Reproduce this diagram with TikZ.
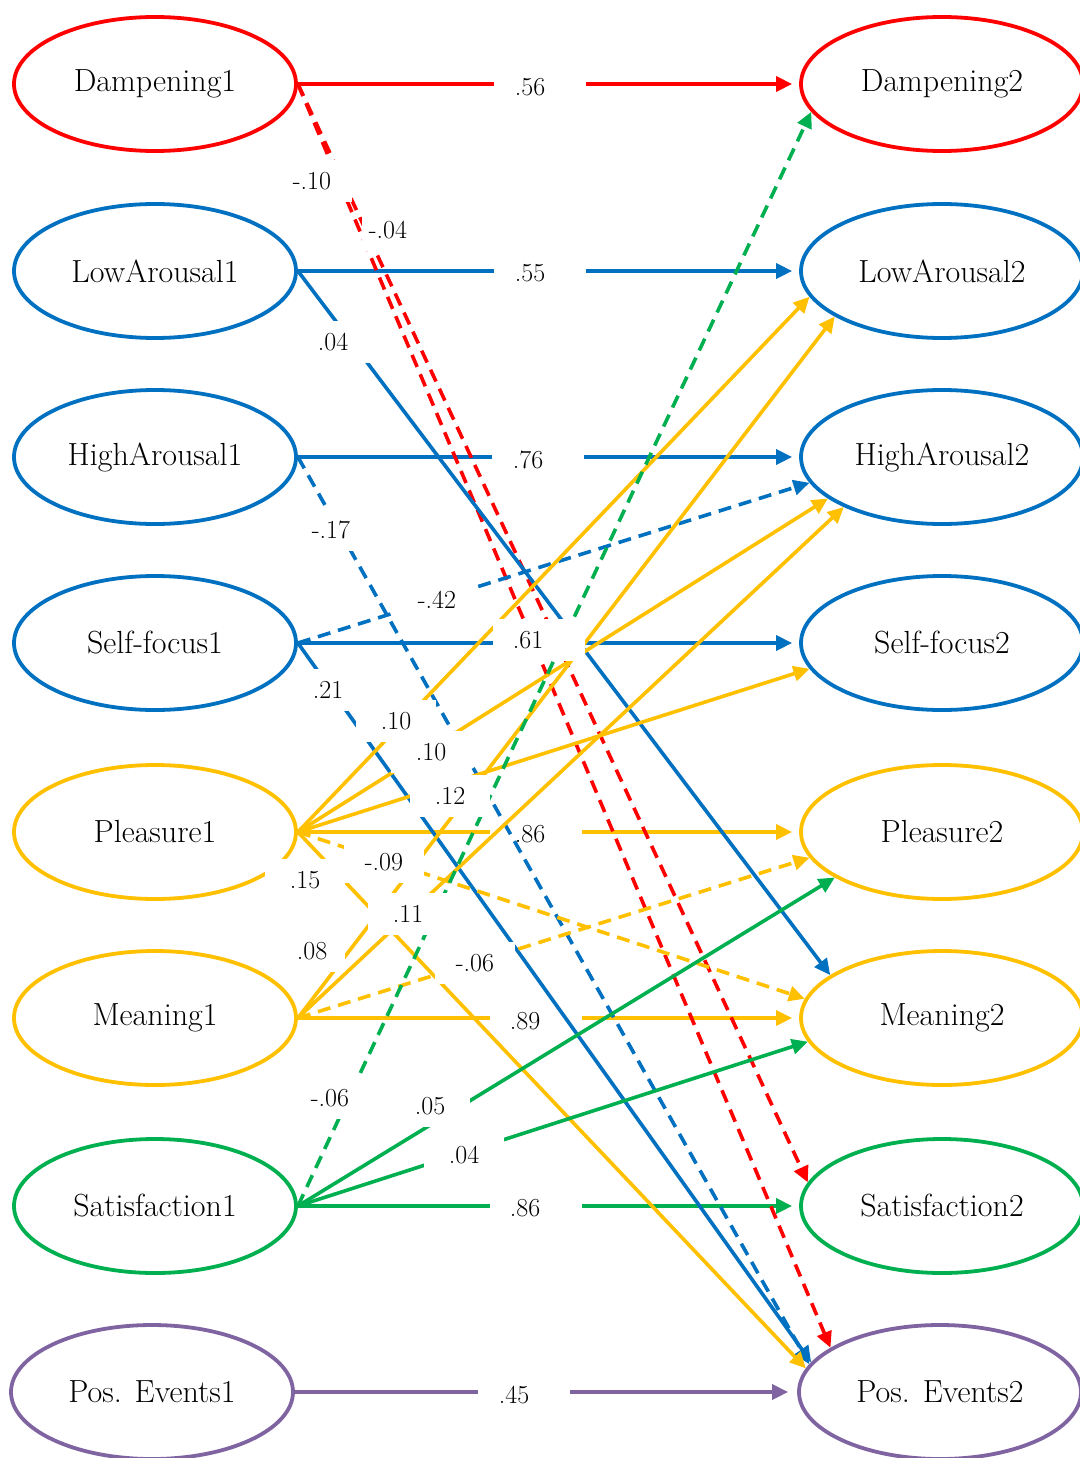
\documentclass[tikz,border=0pt]{standalone}
\usetikzlibrary{arrows.meta,shapes.geometric}
\definecolor{cred}{RGB}{255,0,0}
\definecolor{cblue}{RGB}{0,112,192}
\definecolor{cyel}{RGB}{255,192,0}
\definecolor{cgreen}{RGB}{0,176,80}
\definecolor{cpurp}{RGB}{128,100,162}
\begin{document}
\begin{tikzpicture}[x=1pt,y=-1pt,
  latent/.style={ellipse, draw, line width=3.8pt, minimum width=282pt, minimum height=134pt,
                 inner sep=0pt, text=black, font=\fontsize{32}{36}\selectfont},
  link/.style={line width=3.6pt},
  tip/.style={-{Triangle[length=16pt,width=15pt]}},
  broken/.style={dash pattern=on 13pt off 8pt},
  coef/.style={fill=white, inner sep=0pt, minimum width=80pt, minimum height=42pt,
               text=black, font=\fontsize{26}{30}\selectfont},
  hcoef/.style={coef, minimum width=92pt},
]
\useasboundingbox (0,0) rectangle (1079,1458);
\fill[white] (0,0) rectangle (1079,1458);

% time 1 latents
\node[latent, draw=cred]   (d1)  at (155,84)   {Dampening1};
\node[latent, draw=cblue]  (l1)  at (155,271)  {LowArousal1};
\node[latent, draw=cblue]  (h1)  at (155,457)  {HighArousal1};
\node[latent, draw=cblue]  (sf1) at (155,643)  {Self-focus1};
\node[latent, draw=cyel]   (pl1) at (155,832)  {Pleasure1};
\node[latent, draw=cyel]   (m1)  at (155,1018) {Meaning1};
\node[latent, draw=cgreen] (sa1) at (155,1206) {Satisfaction1};
\node[latent, draw=cpurp]  (pe1) at (152,1392) {Pos. Events1};

% time 2 latents
\node[latent, draw=cred]   (d2)  at (942,84)   {Dampening2};
\node[latent, draw=cblue]  (l2)  at (942,271)  {LowArousal2};
\node[latent, draw=cblue]  (h2)  at (942,457)  {HighArousal2};
\node[latent, draw=cblue]  (sf2) at (942,643)  {Self-focus2};
\node[latent, draw=cyel]   (pl2) at (942,832)  {Pleasure2};
\node[latent, draw=cyel]   (m2)  at (942,1018) {Meaning2};
\node[latent, draw=cgreen] (sa2) at (942,1206) {Satisfaction2};
\node[latent, draw=cpurp]  (pe2) at (940,1392) {Pos. Events2};

% stability paths
\draw[link, tip, cred,   shorten >=7pt] (d1)  -- (d2);
\draw[link, tip, cblue,  shorten >=7pt] (l1)  -- (l2);
\draw[link, tip, cblue,  shorten >=7pt] (h1)  -- (h2);
\draw[link, tip, cblue,  shorten >=7pt] (sf1) -- (sf2);
\draw[link, tip, cyel,   shorten >=7pt] (pl1) -- (pl2);
\draw[link, tip, cyel,   shorten >=7pt] (m1)  -- (m2);
\draw[link, tip, cgreen, shorten >=7pt] (sa1) -- (sa2);
\draw[link, tip, cpurp,  shorten >=9pt] (pe1) -- (pe2);

\node[hcoef] (kd) at (540,87)   {.56\kern20pt};
\node[hcoef] (kl) at (540,273)  {.55\kern20pt};
\node[hcoef] (kh) at (538,460)  {.76\kern20pt};
\node[hcoef] (kp) at (536,834)  {.86\kern12pt};
\node[hcoef] (km) at (536,1021) {.89\kern22pt};
\node[hcoef] (ks) at (536,1208) {.86\kern22pt};
\node[hcoef] (ke) at (524,1395) {.45\kern20pt};

% cross-lagged paths
\draw[link, cred, broken, tip]   (d1.east)  -- (sa2.170);
\draw[link, cred, broken, tip]   (d1.east)  -- (pe2.158);
\draw[link, cblue, tip]          (l1.east)  -- (m2.159);
\draw[link, cblue, broken, tip]  (h1.east)  -- (pe2.168);
\draw[link, cblue, broken, tip]  (sf1.east) -- (h2.191);
\draw[link, cblue, tip]          (sf1.east) -- (pe2.167);
\draw[link, cyel, tip]           (pl1.east) -- (l2.191);
\draw[link, cyel, tip]           (pl1.east) -- (h2.200);
\draw[link, cyel, tip]           (pl1.east) -- (sf2.191);
\draw[link, cyel, broken, tip]   (pl1.east) -- (m2.172);
\draw[link, cyel, tip]           (pl1.east) -- (pe2.170);
\draw[link, cyel, broken, tip]   (m1.east)  -- (pl2.191);
\draw[link, cyel, tip]           (m1.east)  -- (l2.203);
\draw[link, cyel, tip]           (m1.east)  -- (h2.207);
\draw[link, cgreen, broken, tip] (sa1.east) -- (d2.192);
\draw[link, cgreen, tip]         (sa1.east) -- (pl2.203);
\draw[link, cgreen, tip]         (sa1.east) -- (m2.190);

% coefficients of the cross-lagged paths
\node[coef] (c1)  at (312,181)  {-.10};
\node[coef, minimum width=52pt] (c2) at (388,230) {-.04};
\node[coef] (c3)  at (333,342)  {.04};
\node[coef] (c4)  at (331,530)  {-.17};
\node[coef] (c5)  at (437,600)  {-.42};
\node[coef] (c6)  at (328,690)  {.21};
\node[coef] (c7)  at (396,721)  {.10};
\node[coef] (c8)  at (431,752)  {.10};
\node[coef] (c9)  at (450,796)  {.12};
\node[coef] (c10) at (384,862)  {-.09};
\node[coef] (c11) at (305,880)  {.15};
\node[coef] (c12) at (408,914)  {.11};
\node[coef, minimum width=66pt] (c13) at (312,951) {.08};
\node[coef] (c14) at (475,963)  {-.06};
\node[coef] (c15) at (330,1098) {-.06};
\node[coef] (c16) at (430,1106) {.05};
\node[coef] (c17) at (464,1155) {.04};
\node[hcoef] (kf) at (539,640) {.61\kern22pt};
\end{tikzpicture}
\end{document}
